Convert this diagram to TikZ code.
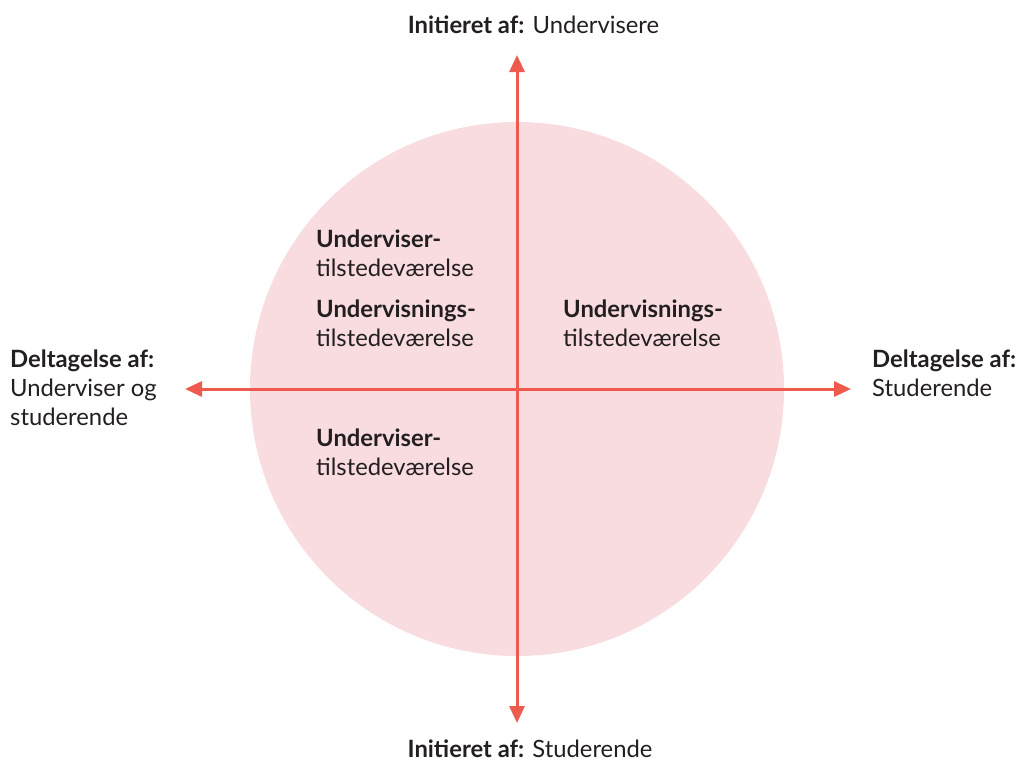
\documentclass[tikz,border=0pt]{standalone}
\usepackage{fontspec}
\setmainfont{Lato}
\usetikzlibrary{arrows.meta}
\definecolor{axisred}{HTML}{EF5A4F}
\definecolor{discpink}{HTML}{F8DCE0}
\definecolor{inkdark}{HTML}{231F20}
\tikzset{
  axis/.style={draw=axisred, line width=3pt, -{Triangle[length=17pt,width=15pt]}},
  lbl/.style={inner sep=0pt, text=inkdark, font=\fontsize{23.8}{29}\selectfont, align=left, anchor=west},
}
\begin{document}
\begin{tikzpicture}[x=1pt,y=-1pt]
  \useasboundingbox (0,0) rectangle (1019,763);
  % background disc
  \fill[discpink] (517,389) circle (267);
  % axes from the centre outwards
  \coordinate (c) at (517,389);
  \coordinate (top) at (517,55);
  \coordinate (bottom) at (517,723);
  \coordinate (left) at (185,389);
  \coordinate (right) at (851,389);
  \draw[axis] (c) -- (top);
  \draw[axis] (c) -- (bottom);
  \draw[axis] (c) -- (left);
  \draw[axis] (c) -- (right);
  % axis captions
  \node[lbl, anchor=center] (tcap) at (533.5,25) {\textbf{Initieret af:} Undervisere};
  \node[lbl, anchor=center] (bcap) at (530,749) {\textbf{Initieret af:} Studerende};
  \node[lbl] (lcap) at (10,388) {\textbf{Deltagelse af:}\\Underviser og\\studerende};
  \node[lbl] (rcap) at (872,373.5) {\textbf{Deltagelse af:}\\Studerende};
  % quadrant labels
  \node[lbl] (q1a) at (316,253.5) {\textbf{Underviser-}\\tilstedeværelse};
  \node[lbl] (q1b) at (316,323.5) {\textbf{Undervisnings-}\\tilstedeværelse};
  \node[lbl] (q2) at (563,323.5) {\textbf{Undervisnings-}\\tilstedeværelse};
  \node[lbl] (q3) at (316,452.5) {\textbf{Underviser-}\\tilstedeværelse};
\end{tikzpicture}
\end{document}
